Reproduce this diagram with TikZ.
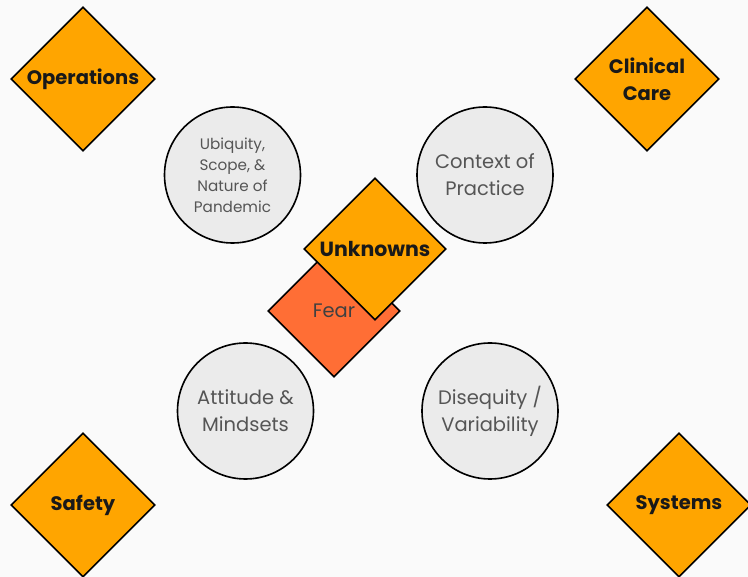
\documentclass[tikz,border=0pt]{standalone}
\usepackage{fontspec}
\setmainfont{Poppins}
\usetikzlibrary{shapes.geometric}
\definecolor{bg}{HTML}{FAFAFA}
\definecolor{dia}{HTML}{FFA500}
\definecolor{fearc}{HTML}{FF6E35}
\definecolor{circ}{HTML}{EBEBEB}
\definecolor{ctext}{HTML}{555555}
\tikzset{
  bigdia/.style={shape=diamond, aspect=1, draw=black, line width=1.6pt, fill=dia,
    minimum width=144pt, minimum height=144pt, inner sep=0pt, align=center,
    font=\fontsize{19.5}{27}\selectfont\bfseries, text=black!90},
  circnode/.style={circle, draw=black, line width=1.6pt, fill=circ,
    minimum size=136pt, inner sep=0pt, align=center, text=ctext,
    font=\fontsize{19.5}{27}\selectfont},
  smalltext/.style={font=\fontsize{15.2}{21}\selectfont}
}
\begin{document}
\begin{tikzpicture}[x=1pt,y=-1pt]
\fill[bg] (0,0) rectangle (748,577);
\useasboundingbox (0,0) rectangle (748,577);
\node[bigdia] (ops) at (83,79) {Operations};
\node[bigdia] (clin) at (647,79) {Clinical\\Care};
\node[bigdia] (safe) at (83,505) {Safety};
\node[bigdia] (sys) at (679,505) {Systems};
\node[circnode, smalltext] (ubiq) at (232.5,175) {Ubiquity,\\Scope, \&\\Nature of\\Pandemic};
\node[circnode] (ctx) at (485,175) {Context of\\Practice};
\node[circnode] (att) at (245.5,411) {Attitude \&\\Mindsets};
\node[circnode] (dis) at (490,411) {Disequity /\\Variability};
\node[shape=diamond, aspect=1, draw=black, line width=1.6pt, fill=fearc,
  minimum width=132pt, minimum height=132pt, inner sep=0pt] (fear) at (334,311) {};
\node[bigdia, minimum width=142pt, minimum height=142pt, font=\fontsize{20.5}{24}\selectfont\bfseries] (unk) at (375,249) {Unknowns};
\node[text=black!75, font=\fontsize{19.5}{24}\selectfont, anchor=base] (feartxt) at (334,318) {Fear};
\end{tikzpicture}
\end{document}
